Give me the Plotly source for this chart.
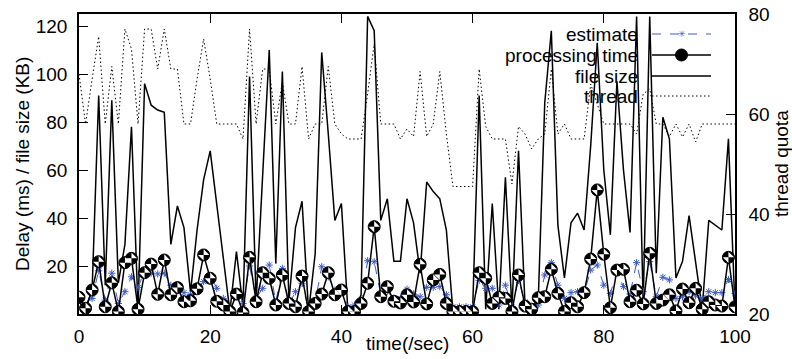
import plotly.graph_objects as go

time_s = list(range(0, 101))

estimate = [6, 3, 6.5, 18, 5.8, 17, 4.4, 9.3, 15.5, 11,
            18.3, 17, 16.7, 17, 12, 11.4, 8.9, 8, 10, 13.5,
            15.5, 10.7, 6.5, 3, 7.2, 4.4, 20, 6.5, 10.7, 20.4,
            5, 19, 3.75, 9.3, 12.8, 1.7, 5, 19.7, 15.5, 10,
            10.7, 3, 3.75, 5, 22.2, 21.8, 8, 9.3, 6.5, 6.5,
            10.3, 8.3, 7.2, 11.1, 11.1, 11.4, 8, 3, 3, 3,
            3, 14, 10.7, 10.7, 3.75, 12, 3, 14, 5, 2.8,
            3.75, 16.25, 21.4, 12, 6.5, 8.9, 9.3, 8.6, 18.3, 20.4,
            12, 8.6, 17.6, 11.4, 8.3, 21.4, 9.3, 21.8, 7.2, 15.3,
            14.2, 6.5, 7.2, 9.3, 7.6, 6.5, 9.3, 8.9, 8.9, 14.4,
            8.6]

processing_time = [7.0, 2.4, 10, 21.8, 3, 13, 1, 21.4, 23.2, 2,
                   17.2, 20.8, 8.2, 22.5, 8, 11, 5.1, 5.5, 10.5, 24.6,
                   14.9, 5.3, 3.75, 1, 8.3, 0.6, 23.6, 5.1, 17.2, 14.9,
                   3.75, 16.25, 4.4, 3, 15.8, 1, 4.4, 8.3, 17.2, 8,
                   10, 1, 1, 4.4, 12.8, 36.4, 7.2, 11.4, 5.3, 4.6,
                   8, 5, 20.7, 4.2, 14.2, 16.5, 4.4, 1, 1, 1,
                   1, 17.2, 14.9, 4.4, 7, 6.5, 1, 16.25, 3.3, 2,
                   6.8, 7.2, 18.6, 8.6, 1, 4.7, 3, 8.9, 22.9, 51.7,
                   24.9, 2.6, 18.3, 18.6, 5.1, 9.9, 4.2, 25.3, 4.4, 5.8,
                   8, 1.3, 10.4, 4.7, 10.7, 2, 5.1, 3.75, 3.3, 23.6,
                   3]

file_size = [5, 2, 10, 91, 12, 89, 13, 29, 78, 2,
             96, 87, 85, 84, 29, 45, 36, 9, 35, 56,
             68, 45, 22, 1, 26, 3, 99, 5, 58, 110,
             21, 101, 5, 36, 47, 1, 25, 109, 75, 39,
             46, 1, 2, 8, 124, 118, 39, 48, 22, 22,
             48, 38, 17, 55, 51, 48, 35, 1, 1, 1,
             1, 91, 2, 46, 2, 57, 2, 68, 3, 2,
             5, 88, 118, 37, 15, 38, 42, 35, 70, 113,
             60, 33, 97, 60, 34, 124, 4, 124, 17, 82,
             73, 15, 22, 41, 22, 2, 39, 37, 35, 73,
             2]

thread = [68, 58, 67, 75.5, 58, 69.5, 58, 77, 73, 58,
          77, 77, 69, 77, 69, 69, 58, 58, 67, 75,
          67, 58, 58, 58, 58, 55, 77, 58, 69, 69,
          58, 66.5, 58, 58, 69.5, 55, 58, 58, 69.5, 58,
          56, 55, 55, 55, 64, 74, 58, 58, 58, 55,
          57, 55.5, 68.5, 55.5, 58, 68.5, 56, 45.5, 45.5, 45.5,
          45.5, 69, 57.5, 55, 55, 55, 46, 57.5, 56, 53,
          55, 56, 69, 56, 58, 55, 55, 55, 66, 62,
          58, 58, 58, 58, 58, 56, 64, 65, 58, 58,
          55.5, 58, 55.4, 58, 54.4, 58, 58, 58, 58, 58,
          58]

series_names = ["estimate", "processing time", "file size", "thread"]
x_ticks = [0, 20, 40, 60, 80, 100]
y_ticks = [20, 40, 60, 80, 100, 120]
y2_ticks = [20, 40, 60, 80]

FONT = "Liberation Sans, Arial, sans-serif"
FS = 19
BLUE = "#3a5cc4"
THREAD_DASH = "1.5px,2.5px"

# plot-area geometry in pixels (used only for legend / titles placement)
W, H = 792, 359
ML, MR, MT, MB = 79, 57, 14, 45
PW, PH = W - ML - MR, H - MT - MB


def px2x(px):
    return (px - ML) / PW


def px2y(py):
    return (H - MB - py) / PH


fig = go.Figure()

fig.add_trace(go.Scatter(
    x=time_s, y=file_size, name=series_names[2], mode="lines",
    line=dict(color="black", width=1.5), showlegend=False))

fig.add_trace(go.Scatter(
    x=time_s, y=estimate, name=series_names[0], mode="lines+markers",
    line=dict(color=BLUE, width=1, dash="dash"),
    marker=dict(symbol="asterisk-open", size=6, color=BLUE,
                line=dict(color=BLUE, width=1)),
    showlegend=False))

fig.add_trace(go.Scatter(
    x=time_s, y=processing_time, name=series_names[1], mode="lines+markers",
    line=dict(color="black", width=1.5),
    marker=dict(symbol="circle", size=12, color="black",
                line=dict(color="black", width=1)),
    showlegend=False))

fig.add_trace(go.Scatter(
    x=time_s, y=processing_time, mode="markers", showlegend=False,
    hoverinfo="skip",
    marker=dict(symbol="hourglass", size=8, color="white", angle=45,
                line=dict(width=0))))

fig.add_trace(go.Scatter(
    x=time_s, y=thread, name=series_names[3], mode="lines", yaxis="y2",
    line=dict(color="black", width=1, dash=THREAD_DASH), showlegend=False))

axis_common = dict(
    showgrid=False, zeroline=False, showline=True, linecolor="black",
    linewidth=1.5, ticks="inside", tickcolor="black", tickwidth=1.2,
    automargin=False,
    tickfont=dict(family=FONT, size=FS, color="black"),
)

# ---- hand-built legend (text right-aligned, key on the right, as in gnuplot)
legend_rows_py = [34, 55, 76, 96]
text_right_px = 640
key_x0_px, key_x1_px = 652, 711
key_mid_px = (key_x0_px + key_x1_px) / 2

annotations = []
shapes = []
for name, py in zip(series_names, legend_rows_py):
    annotations.append(dict(
        text=name, xref="paper", yref="paper", x=px2x(text_right_px), y=px2y(py),
        xanchor="right", yanchor="middle", showarrow=False,
        font=dict(family=FONT, size=FS, color="black")))

key_styles = [
    dict(color=BLUE, width=1, dash="dash"),
    dict(color="black", width=1.5),
    dict(color="black", width=1.5),
    dict(color="black", width=1, dash=THREAD_DASH),
]
for style, py in zip(key_styles, legend_rows_py):
    shapes.append(dict(type="line", xref="paper", yref="paper",
                       x0=px2x(key_x0_px), x1=px2x(key_x1_px),
                       y0=px2y(py), y1=px2y(py), line=style))

# key markers
r = 6
shapes.append(dict(type="circle", xref="paper", yref="paper",
                   xsizemode="pixel", ysizemode="pixel",
                   xanchor=px2x(key_mid_px), yanchor=px2y(legend_rows_py[1]),
                   x0=-r, x1=r, y0=-r, y1=r,
                   fillcolor="black", line=dict(color="black", width=1)))
annotations.append(dict(text="✳", xref="paper", yref="paper",
                        x=px2x(key_mid_px), y=px2y(legend_rows_py[0]),
                        xanchor="center", yanchor="middle", showarrow=False,
                        font=dict(size=9, color=BLUE)))

annotations += [
    dict(text="Delay (ms) / file size (KB)", xref="paper", yref="paper",
         x=px2x(22), y=0.5, textangle=-90, showarrow=False,
         xanchor="center", yanchor="middle", font=dict(family=FONT, size=FS)),
    dict(text="thread quota", xref="paper", yref="paper",
         x=px2x(781), y=0.5, textangle=-90, showarrow=False,
         xanchor="center", yanchor="middle", font=dict(family=FONT, size=FS)),
    dict(text="time(/sec)", xref="paper", yref="paper",
         x=0.5, y=px2y(343), showarrow=False,
         xanchor="center", yanchor="middle", font=dict(family=FONT, size=FS)),
]

fig.update_layout(
    width=W, height=H,
    margin=dict(l=ML, r=MR, t=MT, b=MB, autoexpand=False),
    paper_bgcolor="white", plot_bgcolor="white",
    font=dict(family=FONT, size=FS, color="black"),
    xaxis=dict(range=[0, 100], tickvals=x_ticks, mirror="ticks", ticklen=9,
               ticklabelstandoff=4, **axis_common),
    yaxis=dict(range=[0, 125], tickvals=y_ticks, mirror=True, ticklen=9,
               ticklabelstandoff=6, **axis_common),
    yaxis2=dict(range=[20, 80], tickvals=y2_ticks, overlaying="y", side="right",
                ticklen=9, ticklabelstandoff=8, **axis_common),
    showlegend=False,
    annotations=annotations,
    shapes=shapes,
)

fig.write_html("out.html",
               config={"displayModeBar": False},
               post_script="document.body.style.margin='0px';"
                           "document.body.style.overflow='hidden';")
